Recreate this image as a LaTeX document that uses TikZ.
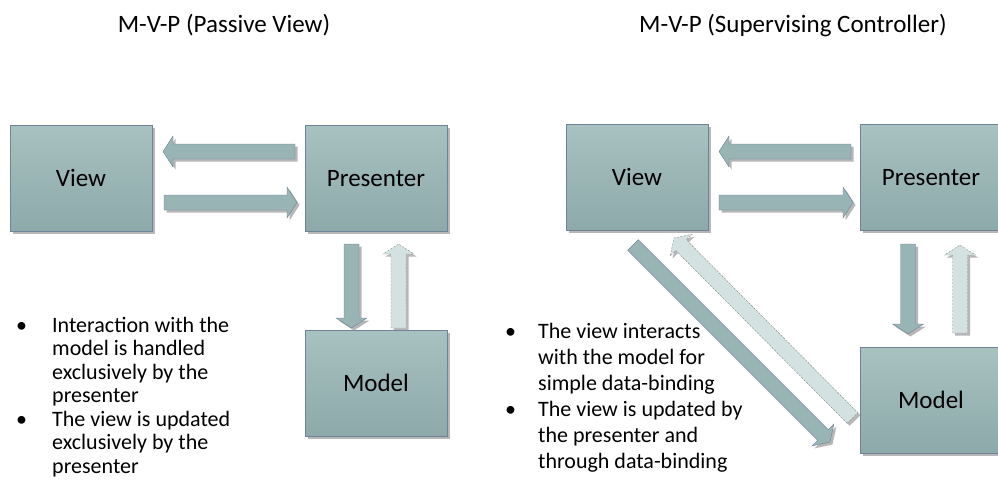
\documentclass[tikz,border=0pt]{standalone}
\usepackage{fontspec}
\setmainfont{Carlito}
\usetikzlibrary{calc,shadows}

\definecolor{mvptop}{RGB}{168,193,193}
\definecolor{mvpbot}{RGB}{141,169,169}
\definecolor{mvpfill}{RGB}{152,180,180}
\definecolor{mvpline}{RGB}{112,130,152}
\definecolor{mvplight}{RGB}{212,225,225}

% block arrow from tail #2 to tip #3
\def\blockarrow[#1](#2)(#3){%
  \coordinate (neck) at ($(#3)!10pt!(#2)$);
  \draw[#1] ($(#2)!7.5pt!90:(#3)$) -- ($(neck)!7.5pt!-90:(#2)$)
    -- ($(neck)!15.5pt!-90:(#2)$) -- (#3)
    -- ($(neck)!15.5pt!90:(#2)$) -- ($(neck)!7.5pt!90:(#2)$)
    -- ($(#2)!7.5pt!-90:(#3)$) -- cycle;}

\newcommand\notebullet[1]{\par\hangindent=#1\hangafter=1\noindent\makebox[#1][l]{\textbullet}}

\tikzset{
  boxshadow/.style={drop shadow={shadow xshift=2.5pt, shadow yshift=-2.5pt, fill=black!40, opacity=.7}},
  mvpbox/.style={draw=mvpline, top color=mvptop, bottom color=mvpbot, boxshadow,
    minimum width=142pt, minimum height=106pt, inner sep=0pt, text height=16pt, text depth=0pt,
    font=\fontsize{25}{30}\selectfont},
  darkarrow/.style={draw=mvpline, fill=mvpfill, boxshadow},
  lightarrow/.style={draw=black!45, dash pattern=on 2pt off 1.5pt, fill=mvplight, boxshadow},
  heading/.style={anchor=base, inner sep=0pt, font=\fontsize{25}{30}\selectfont},
  notes/.style={anchor=north west, inner sep=0pt}
}

\begin{document}
\begin{tikzpicture}[x=1pt,y=-1pt]
  \useasboundingbox (0,0) rectangle (998,490);

  %%%%% passive view %%%%%
  \node[heading] (ltitle) at (224,32) {M-V-P (Passive View)};

  \coordinate (lpv1) at (295,151.5);
  \coordinate (lpv2) at (163,151.5);
  \coordinate (lvp1) at (164,202.5);
  \coordinate (lvp2) at (297,202.5);
  \coordinate (lpm1) at (351.5,244);
  \coordinate (lpm2) at (351.5,328);
  \coordinate (lmp1) at (398.5,328);
  \coordinate (lmp2) at (398.5,244);

  \blockarrow[darkarrow](lpv1)(lpv2)
  \blockarrow[darkarrow](lvp1)(lvp2)
  \blockarrow[darkarrow](lpm1)(lpm2)
  \blockarrow[lightarrow](lmp1)(lmp2)

  \node[mvpbox] (lview) at (81,178) {View};
  \node[mvpbox] (lpres) at (376,178) {Presenter};
  \node[mvpbox] (lmodel) at (376,383) {Model};

  \node[notes] (lnotes) at (16,317) {\parbox{280pt}{\fontsize{22}{23.5}\selectfont
    \notebullet{36pt}Interaction with the\\ model is handled\\ exclusively by the\\ presenter
    \notebullet{36pt}The view is updated\\ exclusively by the\\ presenter}};

  %%%%% supervising controller %%%%%
  \node[heading] (rtitle) at (793,32) {M-V-P (Supervising Controller)};

  \coordinate (rpv1) at (851,151.5);
  \coordinate (rpv2) at (719,151.5);
  \coordinate (rvp1) at (719,202.5);
  \coordinate (rvp2) at (853,202.5);
  \coordinate (rpm1) at (908,244);
  \coordinate (rpm2) at (908,334);
  \coordinate (rmp1) at (960,333);
  \coordinate (rmp2) at (960,245);
  \coordinate (rvm1) at (633,245);
  \coordinate (rvm2) at (830,442);
  \coordinate (rmv1) at (852.5,418);
  \coordinate (rmv2) at (674,238);

  \blockarrow[darkarrow](rpv1)(rpv2)
  \blockarrow[darkarrow](rvp1)(rvp2)
  \blockarrow[darkarrow](rpm1)(rpm2)
  \blockarrow[lightarrow](rmp1)(rmp2)
  \blockarrow[darkarrow](rvm1)(rvm2)
  \blockarrow[lightarrow](rmv1)(rmv2)

  \node[mvpbox] (rview) at (637,177.5) {View};
  \node[mvpbox] (rpres) at (931,177.5) {Presenter};
  \node[mvpbox] (rmodel) at (931,400.5) {Model};

  \node[notes] (rnotes) at (505,323) {\parbox{280pt}{\fontsize{22}{26}\selectfont
    \notebullet{33pt}The view interacts\\ with the model for\\ simple data-binding
    \notebullet{33pt}The view is updated by\\ the presenter and\\ through data-binding}};
\end{tikzpicture}
\end{document}
